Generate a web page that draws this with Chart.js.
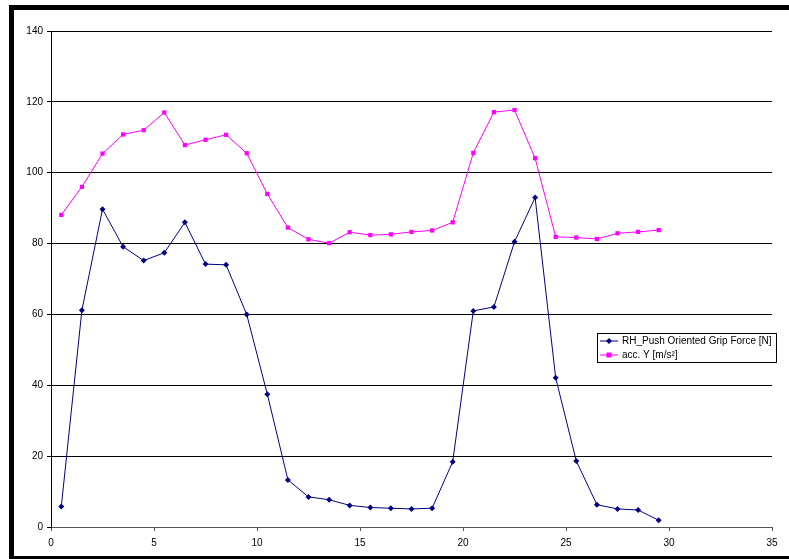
<!DOCTYPE html>
<html>
<head>
<meta charset="utf-8">
<script src="https://cdn.jsdelivr.net/npm/chart.js@4.4.1/dist/chart.umd.min.js"></script>
<style>
  html, body { margin: 0; padding: 0; background: #fff; }
  #wrap { position: relative; width: 789px; height: 559px; overflow: hidden; }
  #chart { position: absolute; left: 0; top: 0; }
  .bar { position: absolute; background: #000; }
</style>
</head>
<body>
<div id="wrap">
  <canvas id="chart" width="789" height="559"></canvas>
  <div class="bar" style="left:9px;top:5px;width:780px;height:5px"></div>
  <div class="bar" style="left:9px;top:5px;width:5px;height:554px"></div>
  <div class="bar" style="left:9px;top:556px;width:780px;height:3px"></div>
</div>
<script>
const xValues = [0.5, 1.5, 2.5, 3.5, 4.5, 5.5, 6.5, 7.5, 8.5, 9.5,
  10.5, 11.5, 12.5, 13.5, 14.5, 15.5, 16.5, 17.5, 18.5, 19.5,
  20.5, 21.5, 22.5, 23.5, 24.5, 25.5, 26.5, 27.5, 28.5, 29.5];

const gripForce = [5.8, 61.2, 89.7, 79.1, 75.2, 77.4, 86.0, 74.2, 74.0, 60.0,
  37.5, 13.3, 8.5, 7.7, 6.1, 5.5, 5.3, 5.1, 5.3, 18.4,
  61.0, 62.1, 80.5, 93.0, 42.1, 18.6, 6.3, 5.1, 4.8, 1.9];

const accY = [88.1, 96.0, 105.4, 110.8, 112.0, 117.0, 107.8, 109.3, 110.7, 105.5,
  94.0, 84.5, 81.2, 80.1, 83.2, 82.4, 82.6, 83.3, 83.7, 86.0,
  105.6, 117.1, 117.7, 104.1, 81.9, 81.7, 81.3, 82.9, 83.3, 83.8];

const seriesNames = ['RH_Push Oriented Grip Force [N]', 'acc. Y [m/s²]'];

const toPoints = (ys) => xValues.map((x, i) => ({ x: x, y: ys[i] }));

// legend drawn inside the plot area, like the original
const boxLegend = {
  id: 'boxLegend',
  afterDraw(chart) {
    const ctx = chart.ctx;
    const left = 597, top = 333, w = 179, h = 29;
    ctx.save();
    ctx.fillStyle = '#fff';
    ctx.fillRect(left, top, w, h);
    ctx.strokeStyle = '#000';
    ctx.lineWidth = 1;
    ctx.strokeRect(left + 0.5, top + 0.5, w, h);
    ctx.font = '10px "Liberation Sans", Arial, sans-serif';
    ctx.textBaseline = 'middle';
    chart.data.datasets.forEach((ds, i) => {
      const y = top + 8 + i * 14;
      ctx.strokeStyle = ds.borderColor;
      ctx.beginPath();
      ctx.moveTo(left + 3, y);
      ctx.lineTo(left + 21, y);
      ctx.stroke();
      ctx.fillStyle = ds.borderColor;
      ctx.beginPath();
      if (ds.pointStyle === 'rect') {
        ctx.fillRect(left + 9.5, y - 2.5, 5, 5);
      } else {
        ctx.moveTo(left + 12, y - 3);
        ctx.lineTo(left + 15, y);
        ctx.lineTo(left + 12, y + 3);
        ctx.lineTo(left + 9, y);
        ctx.closePath();
        ctx.fill();
      }
      ctx.fillStyle = '#000';
      ctx.fillText(ds.label, left + 25, y);
    });
    ctx.restore();
  }
};

const ctx = document.getElementById('chart').getContext('2d');
new Chart(ctx, {
  type: 'line',
  data: {
    datasets: [
      {
        label: seriesNames[0],
        data: toPoints(gripForce),
        borderColor: '#000080',
        backgroundColor: '#000080',
        borderWidth: 1,
        pointStyle: 'rectRot',
        pointRadius: 3,
        pointBorderWidth: 0,
        tension: 0
      },
      {
        label: seriesNames[1],
        data: toPoints(accY),
        borderColor: '#FF00FF',
        backgroundColor: '#FF00FF',
        borderWidth: 1,
        pointStyle: 'rect',
        pointRadius: 3,
        pointBorderWidth: 0,
        tension: 0
      }
    ]
  },
  plugins: [boxLegend],
  options: {
    responsive: false,
    animation: false,
    layout: { padding: { top: 31, right: 17, left: 0, bottom: 0 } },
    plugins: {
      legend: { display: false },
      tooltip: { enabled: false }
    },
    scales: {
      x: {
        type: 'linear',
        min: 0,
        max: 35,
        afterFit: (scale) => { scale.height = 32; },
        ticks: {
          stepSize: 5,
          color: '#000',
          padding: 6,
          maxRotation: 0,
          font: { family: '"Liberation Sans", Arial, sans-serif', size: 10 }
        },
        grid: { drawOnChartArea: false, tickLength: 4, color: '#555' },
        border: { color: '#555', width: 1 }
      },
      y: {
        min: 0,
        max: 140,
        afterFit: (scale) => { scale.width = 51; },
        ticks: {
          stepSize: 20,
          color: '#000',
          padding: 4,
          font: { family: '"Liberation Sans", Arial, sans-serif', size: 10 }
        },
        grid: { color: '#000', tickLength: 4 },
        border: { color: '#000', width: 1 }
      }
    }
  }
});
</script>
</body>
</html>
